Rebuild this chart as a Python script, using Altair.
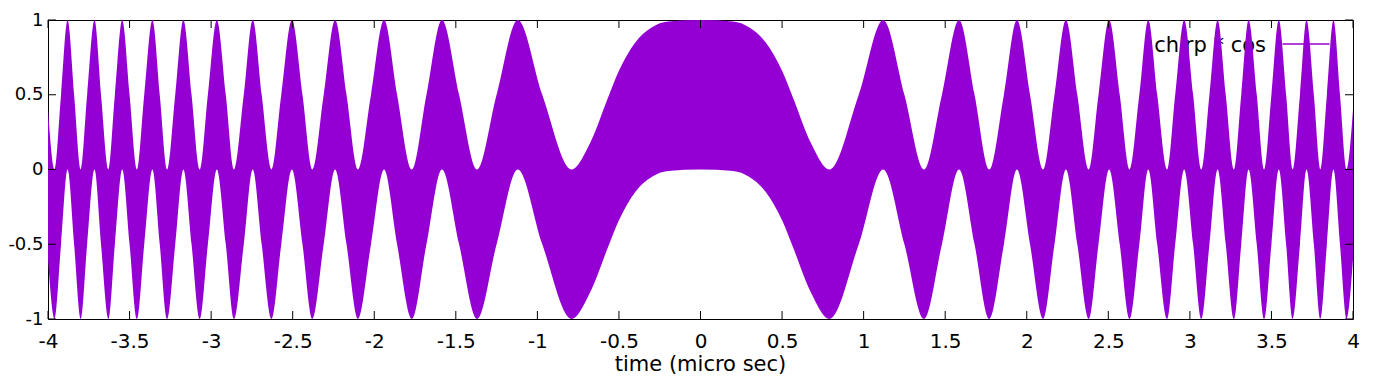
import altair as alt
import pandas as pd

# envelope key points (peaks, half-height points, troughs)
env_t = [
    -4.0,
    -3.96, -3.92, -3.88, -3.84,
    -3.80, -3.76, -3.715, -3.675,
    -3.63, -3.59, -3.545, -3.50,
    -3.455, -3.41, -3.36, -3.315,
    -3.27, -3.22, -3.17, -3.12,
    -3.07, -3.02, -2.965, -2.91,
    -2.86, -2.80, -2.745, -2.69,
    -2.63, -2.57, -2.505, -2.44,
    -2.38, -2.31, -2.24, -2.17,
    -2.10, -2.02, -1.94, -1.86,
    -1.77, -1.68, -1.585, -1.48,
    -1.37, -1.25, -1.12, -0.97,
    -0.79, -0.68, -0.56, -0.50, -0.40, -0.30, -0.20,
    0.0,
    0.20, 0.30, 0.40, 0.50, 0.56, 0.68, 0.79,
    0.97, 1.12, 1.25, 1.37,
    1.48, 1.585, 1.68, 1.77,
    1.86, 1.94, 2.02, 2.10,
    2.17, 2.24, 2.31, 2.38,
    2.44, 2.505, 2.57, 2.63,
    2.69, 2.745, 2.80, 2.86,
    2.91, 2.965, 3.02, 3.07,
    3.12, 3.17, 3.22, 3.27,
    3.315, 3.36, 3.41, 3.455,
    3.50, 3.545, 3.59, 3.63,
    3.675, 3.715, 3.76, 3.80,
    3.84, 3.88, 3.92, 3.96,
    4.0,
]
env_up = [
    0.40,
    0.0, 0.5, 1.0, 0.5,
    0.0, 0.5, 1.0, 0.5,
    0.0, 0.5, 1.0, 0.5,
    0.0, 0.5, 1.0, 0.5,
    0.0, 0.5, 1.0, 0.5,
    0.0, 0.5, 1.0, 0.5,
    0.0, 0.5, 1.0, 0.5,
    0.0, 0.5, 1.0, 0.5,
    0.0, 0.5, 1.0, 0.5,
    0.0, 0.5, 1.0, 0.5,
    0.0, 0.5, 1.0, 0.5,
    0.0, 0.5, 1.0, 0.5,
    0.0, 0.17, 0.5, 0.66, 0.85, 0.95, 0.99,
    1.0,
    0.99, 0.95, 0.85, 0.66, 0.5, 0.17, 0.0,
    0.5, 1.0, 0.5, 0.0,
    0.5, 1.0, 0.5, 0.0,
    0.5, 1.0, 0.5, 0.0,
    0.5, 1.0, 0.5, 0.0,
    0.5, 1.0, 0.5, 0.0,
    0.5, 1.0, 0.5, 0.0,
    0.5, 1.0, 0.5, 0.0,
    0.5, 1.0, 0.5, 0.0,
    0.5, 1.0, 0.5, 0.0,
    0.5, 1.0, 0.5, 0.0,
    0.5, 1.0, 0.5, 0.0,
    0.5, 1.0, 0.5, 0.0,
    0.40,
]
env_lo = [
    -0.60,
    -1.0, -0.5, 0.0, -0.5,
    -1.0, -0.5, 0.0, -0.5,
    -1.0, -0.5, 0.0, -0.5,
    -1.0, -0.5, 0.0, -0.5,
    -1.0, -0.5, 0.0, -0.5,
    -1.0, -0.5, 0.0, -0.5,
    -1.0, -0.5, 0.0, -0.5,
    -1.0, -0.5, 0.0, -0.5,
    -1.0, -0.5, 0.0, -0.5,
    -1.0, -0.5, 0.0, -0.5,
    -1.0, -0.5, 0.0, -0.5,
    -1.0, -0.5, 0.0, -0.5,
    -1.0, -0.83, -0.5, -0.34, -0.15, -0.05, -0.01,
    0.0,
    -0.01, -0.05, -0.15, -0.34, -0.5, -0.83, -1.0,
    -0.5, 0.0, -0.5, -1.0,
    -0.5, 0.0, -0.5, -1.0,
    -0.5, 0.0, -0.5, -1.0,
    -0.5, 0.0, -0.5, -1.0,
    -0.5, 0.0, -0.5, -1.0,
    -0.5, 0.0, -0.5, -1.0,
    -0.5, 0.0, -0.5, -1.0,
    -0.5, 0.0, -0.5, -1.0,
    -0.5, 0.0, -0.5, -1.0,
    -0.5, 0.0, -0.5, -1.0,
    -0.5, 0.0, -0.5, -1.0,
    -0.5, 0.0, -0.5, -1.0,
    -0.60,
]

x_ticks = [-4, -3.5, -3, -2.5, -2, -1.5, -1, -0.5, 0, 0.5, 1, 1.5, 2, 2.5, 3, 3.5, 4]
y_ticks = [-1, -0.5, 0, 0.5, 1]
legend_label = "chirp * cos"
x_title = "time (micro sec)"

PURPLE = "#9400D3"
FONT = "DejaVu Sans"
FS = 20
FS_TEXT = 21
W, H = 1305, 299
TICK = 8

env = pd.DataFrame({"t": env_t, "up": env_up, "lo": env_lo})
xt = pd.DataFrame({"t": x_ticks})
yt = pd.DataFrame({"up": y_ticks})

xs = alt.Scale(domain=[-4, 4], nice=False, zero=False)
ys = alt.Scale(domain=[-1, 1], nice=False, zero=False)

lab_expr = "datum.value < 0 ? '-' + format(-datum.value, '~g') : format(datum.value, '~g')"

x_axis = alt.Axis(
    values=x_ticks, labelExpr=lab_expr, tickSize=0, domain=False, grid=False,
    labelFont=FONT, labelFontSize=FS, labelColor="black", labelPadding=12,
    labelFlush=False, labelOverlap=False, title="")
y_axis = alt.Axis(
    values=y_ticks, labelExpr=lab_expr, tickSize=0, domain=False, grid=False,
    labelFont=FONT, labelFontSize=18, labelColor="black", labelPadding=5,
    labelFlush=False, labelOverlap=False, title="")

legend_text = alt.Chart(pd.DataFrame({"label": [legend_label]})).mark_text(
    align="right", baseline="alphabetic", font=FONT, fontSize=FS_TEXT, color="black"
).encode(x=alt.value(1218), y=alt.value(31.5), text="label:N")

legend_line = alt.Chart(pd.DataFrame({"label": [legend_label]})).mark_rule(
    color=PURPLE, stroke=PURPLE, strokeWidth=1.5
).encode(x=alt.value(1234.5), x2=alt.value(1281.5), y=alt.value(24))

area = alt.Chart(env).mark_area(color=PURPLE, interpolate="monotone", opacity=1).encode(
    x=alt.X("t:Q", scale=xs, axis=x_axis),
    y=alt.Y("up:Q", scale=ys, axis=y_axis),
    y2="lo:Q",
)

tick_bottom = alt.Chart(xt).mark_rule(color="black", strokeWidth=1).encode(
    x=alt.X("t:Q", scale=xs, axis=x_axis), y=alt.value(H), y2=alt.value(H - TICK))
tick_top = alt.Chart(xt).mark_rule(color="black", strokeWidth=1).encode(
    x=alt.X("t:Q", scale=xs, axis=x_axis), y=alt.value(0), y2=alt.value(TICK))
tick_left = alt.Chart(yt).mark_rule(color="black", strokeWidth=1).encode(
    y=alt.Y("up:Q", scale=ys, axis=y_axis), x=alt.value(0), x2=alt.value(TICK))
tick_right = alt.Chart(yt).mark_rule(color="black", strokeWidth=1).encode(
    y=alt.Y("up:Q", scale=ys, axis=y_axis), x=alt.value(W), x2=alt.value(W - TICK))

title_text = alt.Chart(pd.DataFrame({"label": [x_title]})).mark_text(
    align="center", baseline="alphabetic", font=FONT, fontSize=FS_TEXT, color="black"
).encode(x=alt.value(W / 2), y=alt.value(351), text="label:N")

chart = alt.layer(
    legend_text, legend_line, area, tick_bottom, tick_top, tick_left, tick_right, title_text
).properties(
    width=W, height=H,
    autosize=alt.AutoSizeParams(type="none"),
    padding={"left": 40, "top": 12, "right": 15, "bottom": 57},
    background="white",
).configure_view(
    stroke="black", strokeWidth=1
)

chart.save("out.html", embed_options={"renderer": "svg", "actions": False})
